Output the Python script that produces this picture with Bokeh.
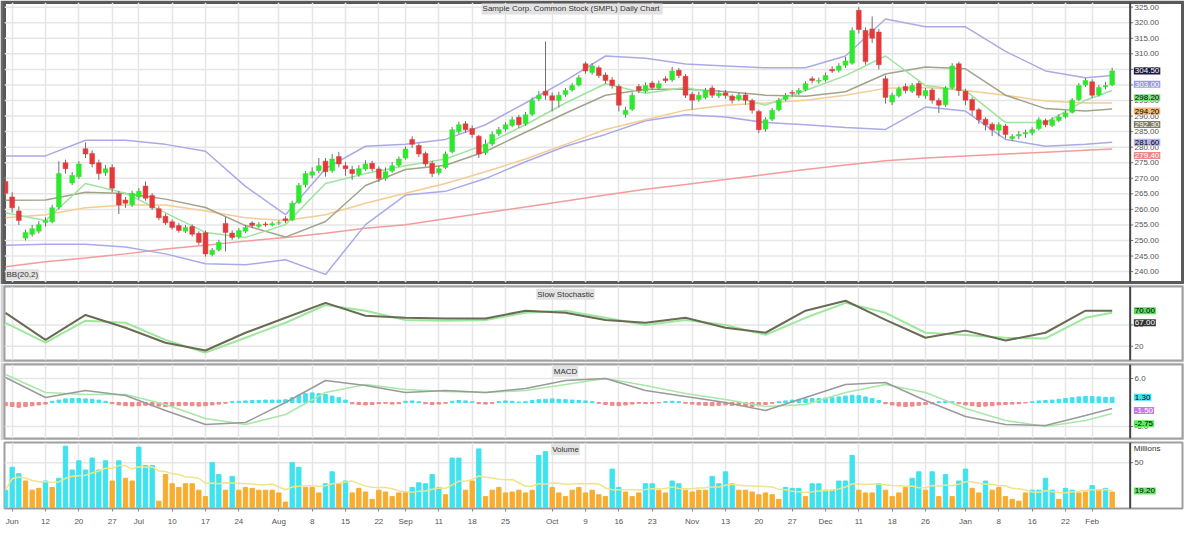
import pandas as pd
from bokeh.plotting import figure
from bokeh.layouts import column
from bokeh.models import ColumnDataSource, Range1d, FixedTicker, Label, Span
from bokeh.core.properties import value
from bokeh.embed import file_html
from bokeh.resources import INLINE

FONT = "Liberation Sans"
TITLE = "Sample Corp. Common Stock (SMPL)  Daily Chart"

opens = [269.0,264.0,259.5,250.8,252.0,253.0,255.8,256.0,260.8,275.0,
         268.5,270.5,279.5,278.0,275.0,271.8,273.5,265.0,263.0,261.5,
         264.0,267.5,264.5,260.2,257.8,256.0,254.8,253.0,254.5,252.3,
         252.5,245.5,247.0,255.5,252.4,251.2,253.0,255.6,254.6,255.3,
         255.0,255.6,257.0,256.6,262.2,267.9,271.0,272.5,275.5,272.4,
         277.0,274.0,272.8,271.2,273.0,274.8,273.0,270.0,272.3,274.2,
         276.5,282.5,280.5,278.0,274.8,271.8,273.5,278.5,285.0,287.5,
         286.0,283.5,278.2,281.0,284.3,285.8,287.0,289.6,287.5,290.6,
         295.5,298.0,296.5,295.0,296.9,298.4,300.0,306.8,304.0,305.5,
         303.2,301.6,299.5,290.5,292.2,299.5,298.0,300.6,299.0,302.0,
         301.6,304.7,302.8,297.0,295.3,296.0,299.0,296.5,297.5,296.4,
         295.4,296.8,295.0,291.5,285.8,289.0,292.0,295.3,297.6,297.5,
         298.5,302.0,301.2,301.6,305.0,304.7,306.3,307.0,324.0,317.5,
         318.0,317.0,302.0,294.5,296.5,299.5,298.0,300.5,296.5,298.4,
         295.0,293.6,299.2,306.8,298.0,295.3,292.0,289.0,287.4,285.4,
         286.8,282.8,283.6,284.3,284.6,286.0,288.6,287.0,288.6,289.8,
         291.2,295.3,300.0,301.0,296.8,299.4,300.0]
highs = [270.5,265.5,261.0,253.5,255.0,256.2,257.5,261.5,275.5,276.0,
         272.0,275.5,281.5,279.0,276.0,274.3,274.5,266.0,264.0,266.0,
         266.8,269.0,265.2,261.0,258.6,256.8,255.6,255.0,255.2,253.0,
         253.2,247.6,250.2,257.5,253.3,254.0,255.0,256.2,255.9,256.0,
         256.1,256.5,257.8,262.8,268.5,272.3,273.5,276.5,276.5,277.8,
         278.5,275.2,274.0,274.2,275.8,275.6,273.8,273.5,275.2,277.0,
         280.2,283.5,281.2,278.6,275.6,274.0,278.6,286.5,288.2,288.4,
         287.0,284.0,282.5,285.0,286.5,288.0,289.8,290.4,291.3,296.0,
         298.0,314.0,297.6,297.8,299.0,300.6,303.2,307.5,307.0,306.2,
         304.0,302.5,300.2,293.0,297.6,300.3,300.8,301.3,301.4,302.8,
         305.8,305.5,303.5,297.8,297.8,299.0,299.8,298.3,298.4,297.0,
         297.5,297.6,295.6,292.0,289.6,292.6,295.8,297.4,298.4,299.0,
         301.2,302.8,302.4,304.0,306.0,307.0,309.0,318.5,325.0,318.5,
         322.0,318.0,303.0,297.5,299.5,300.5,300.6,301.2,299.0,299.0,
         295.8,299.6,307.0,307.5,298.8,296.0,292.6,289.6,288.0,288.0,
         287.4,284.2,285.2,285.6,286.4,289.6,289.2,289.6,290.5,291.8,
         295.8,300.6,302.2,301.8,300.0,301.0,305.5]
lows = [263.5,259.0,255.0,250.0,251.2,252.2,254.5,255.5,260.0,271.5,
        267.8,269.8,276.5,273.5,269.5,270.8,265.5,258.5,260.5,260.8,
        263.2,262.8,259.8,256.5,255.0,253.5,252.5,252.4,251.3,248.6,
        244.8,244.9,246.5,246.5,250.2,250.6,252.4,254.0,254.0,254.4,
        254.5,255.0,255.6,256.2,261.8,267.0,270.0,271.6,270.5,271.8,
        273.5,270.8,269.5,270.5,272.4,272.2,268.8,269.2,271.8,273.6,
        276.0,279.8,276.8,273.8,270.4,271.0,273.0,278.0,284.3,284.6,
        283.0,276.5,277.5,280.4,283.6,285.0,286.4,286.2,286.9,290.0,
        294.8,295.2,291.5,292.8,296.2,297.8,299.5,303.6,303.3,302.2,
        300.4,298.8,291.5,289.5,291.6,297.4,297.4,298.4,298.5,300.6,
        301.0,302.2,295.8,292.0,294.6,295.4,295.8,295.8,295.6,294.0,
        294.8,293.6,290.8,284.5,285.0,288.4,291.5,294.8,296.2,296.8,
        298.0,300.5,300.4,301.0,303.8,304.0,305.5,306.5,316.5,306.5,
        313.5,305.0,294.0,293.5,296.0,297.3,297.4,295.8,295.6,294.0,
        291.0,293.0,298.6,296.5,293.5,290.2,287.5,285.4,283.6,283.5,
        282.8,282.0,282.6,283.0,283.8,285.4,286.4,286.5,288.0,289.2,
        290.8,294.8,299.4,295.8,296.2,298.6,299.6]
closes = [265.2,260.5,256.4,252.6,253.8,255.1,256.4,260.5,271.5,273.1,
          270.9,274.6,277.8,274.6,271.5,273.1,266.8,261.4,262.0,265.2,
          265.8,263.6,260.5,257.3,255.7,254.2,253.2,254.2,252.0,249.4,
          245.7,246.9,249.4,252.6,251.0,253.2,254.2,254.8,255.1,255.1,
          255.4,255.7,256.4,262.0,267.7,271.5,272.1,274.0,272.1,276.2,
          274.6,273.1,271.5,273.1,274.6,273.1,269.9,272.1,274.0,276.2,
          279.4,280.9,277.8,274.6,271.5,273.1,277.8,285.6,287.2,285.6,
          284.1,277.8,280.9,284.1,285.6,287.2,288.8,287.2,290.4,295.1,
          296.7,296.7,295.1,296.7,298.2,299.8,302.3,304.5,306.1,303.0,
          301.4,299.8,293.5,291.9,296.7,298.2,299.8,299.2,300.4,301.4,
          304.5,303.0,296.7,295.1,296.7,298.2,296.7,297.3,296.7,295.1,
          296.7,295.1,291.9,285.6,288.8,291.9,295.1,296.7,297.3,298.2,
          300.4,301.4,301.4,303.0,304.5,306.1,307.7,317.5,317.8,307.5,
          315.0,306.5,296.0,296.7,298.8,298.2,299.8,296.7,298.2,295.1,
          293.5,299.0,306.1,298.2,295.1,291.9,288.8,287.2,285.6,287.2,
          284.1,283.4,284.1,284.7,285.6,288.8,287.2,288.8,289.7,291.0,
          295.1,299.8,301.4,296.7,299.2,299.8,304.5]
volumes = [20,45,38,30,20,22,30,23,33,68,42,52,42,55,42,52,30,52,33,30,
           67,47,47,8,37,27,23,27,27,20,13,50,37,20,35,20,23,22,20,20,
           20,17,7,50,45,23,23,17,27,40,27,30,17,22,18,10,20,18,13,17,
           18,23,28,27,37,23,15,55,55,20,30,65,13,20,23,17,18,20,17,20,
           58,62,23,17,13,20,23,17,
           20,15,13,43,23,18,13,17,27,27,20,17,30,27,20,18,20,20,35,27,
           40,27,20,20,18,15,17,15,10,23,22,22,13,27,27,20,20,30,30,58,
           20,17,17,27,20,13,17,23,33,40,20,40,13,37,13,30,43,22,17,30,
           20,23,13,10,8,17,20,20,33,20,10,22,20,17,18,25,20,22,18]

ind_idx = [0,6,12,18,24,30,36,42,48,54,60,66,72,78,84,90,96,102,108,114,
           120,126,132,138,144,150,156,162,166]
bb_upper = [277.2,277.2,282.2,282.2,280.9,278.7,267.4,258.3,273.1,280.3,280.9,282.5,287.2,294.2,301.4,
            309.3,308.6,306.7,306.1,305.5,305.5,309.3,321.2,318.7,318.7,310.8,304.5,302.3,303.0]
bb_mid = [262.9,263.0,265.5,265.1,263.3,260.6,254.8,251.1,256.1,267.7,272.8,274.2,278.6,284.8,290.9,
          296.7,298.6,298.6,297.9,296.7,296.4,297.8,303.5,305.8,305.2,296.7,292.4,291.6,292.3]
bb_lower = [248.5,248.8,248.8,247.9,245.7,242.5,242.2,243.8,239.1,255.1,264.6,265.8,269.9,275.3,280.3,
            284.1,288.5,290.4,289.7,287.9,287.2,286.3,285.7,292.9,291.6,282.5,280.3,280.9,281.6]
ema_fast = [258.9,256.4,268.3,265.2,258.9,252.6,251.0,255.1,268.3,271.5,274.0,276.2,280.9,287.2,294.2,
            300.4,297.3,299.2,296.7,293.5,298.2,303.0,309.3,299.8,298.2,287.9,287.9,295.1,298.2]
sma_50 = [257.3,258.3,260.5,261.4,261.4,259.5,257.3,256.4,258.3,262.0,265.2,268.3,272.1,276.2,280.9,
          285.7,288.8,291.9,293.5,294.2,295.1,296.7,298.9,299.2,298.2,296.7,294.8,294.2,294.2]
sma_200 = [241.6,243.2,244.4,245.7,247.3,248.5,249.8,251.0,252.3,253.9,255.1,257.0,258.9,260.8,262.7,
           264.6,266.5,268.0,269.6,271.2,272.8,274.3,275.6,276.5,277.2,277.8,278.4,279.0,279.4]
stoch_k = [67,29,64,46,25,14,39,60,81,63,60,59,59,70,67,57,53,60,46,39,70,84,57,32,42,28,39,70,70]
stoch_d = [53,25,56,53,29,11,32,53,78,70,57,56,57,67,70,60,50,57,50,36,60,81,67,39,36,32,31,60,67]
macd_line = [6.25,1.25,3.0,1.75,-2.0,-5.5,-5.0,0.0,5.5,4.25,2.5,3.0,2.5,3.5,5.5,6.0,3.0,1.5,0.0,-2.0,
             1.25,4.5,5.0,0.5,-3.5,-5.5,-5.75,-3.25,-1.5]
macd_signal = [7.0,2.5,2.0,2.0,-0.5,-4.0,-5.5,-3.0,2.5,4.5,3.25,2.75,2.5,3.0,4.5,6.0,4.25,2.25,0.75,-1.0,
               -0.5,2.5,4.5,2.5,-1.5,-4.5,-6.0,-4.5,-2.75]
macd_hist = [-0.8,-1.0,-1.2,-1.0,-0.8,-0.6,-0.4,
             0.3,0.6,0.9,1.0,1.0,0.9,0.8,0.6,0.3,
             -0.3,-0.6,-0.8,-0.9,-0.8,-0.7,-0.8,-0.9,-1.0,-0.9,-0.8,-0.7,-0.8,-0.9,-0.8,-0.6,-0.4,-0.2,
             0.2,0.3,0.4,0.5,0.5,0.6,0.6,0.6,0.7,1.2,1.8,2.2,2.4,2.2,2.0,1.6,1.2,0.6,
             -0.3,-0.5,-0.6,-0.5,-0.3,
             -0.2,-0.4,-0.3,
             0.3,0.4,0.2,
             -0.3,-0.5,-0.4,-0.2,
             0.3,0.5,0.4,0.2,
             -0.3,-0.4,-0.2,
             0.2,0.4,0.3,0.1,
             0.2,0.5,0.7,0.8,0.9,0.8,0.7,0.6,0.5,0.4,0.2,
             -0.2,-0.5,-0.7,-0.8,-0.6,-0.4,-0.2,
             -0.3,-0.2,-0.1,
             0.2,0.3,0.2,
             -0.2,-0.4,-0.6,-0.7,-0.8,-0.7,-0.6,-0.7,-0.8,-0.9,-1.0,-0.8,-0.5,-0.2,
             0.2,0.4,0.6,0.8,0.9,1.0,1.0,1.1,1.2,1.4,1.6,1.8,1.7,1.4,1.0,0.5,
             -0.3,-0.6,-0.9,-1.0,-0.9,-0.7,
             -0.5,-0.3,
             0.2,0.3,0.2,
             -0.3,-0.6,-0.8,-1.0,-0.9,-0.8,-0.6,-0.5,-0.4,-0.3,-0.1,
             0.2,0.4,0.5,0.6,0.8,1.0,1.2,1.4,1.5,1.5,1.4,1.3,1.3]

price_ticks = [240,245,250,255,260,265,270,275,280,285,290,295,300,305,310,315,320,325]
stoch_ticks = [20, 50]
macd_ticks = [-6, 6]
vol_ticks = [50]
date_ticks = [1,6,11,16,20,25,30,35,41,46,51,56,60,65,70,75,82,87,92,97,103,108,113,118,
              123,128,133,138,144,149,154,159,163]
date_labels = ["Jun","12","20","27","Jul","10","17","24","Aug","8","15","22","Sep","11","18","25",
               "Oct","9","16","23","Nov","13","20","27","Dec","11","18","26","Jan","8","16","22","Feb"]

N = len(closes)
xs = list(range(N))
vol_ma = pd.Series(volumes).rolling(10, min_periods=1).mean().round(2).tolist()
src = ColumnDataSource(dict(
    x=xs, o=opens, h=highs, l=lows, c=closes,
    top=[max(o, c) for o, c in zip(opens, closes)],
    bot=[min(o, c) for o, c in zip(opens, closes)],
    col=["#2ee82e" if c >= o else "#e23a3a" for o, c in zip(opens, closes)],
    vol=volumes, vma=vol_ma,
    vcol=["#3fe3ee" if v >= m else "#f7ad2f" for v, m in zip(volumes, vol_ma)],
    hist=macd_hist,
    hcol=["#40e0ef" if hv >= 0 else "#f08a8a" for hv in macd_hist],
))

W = 1184
X0 = -0.15          # left edge of the data area
AX = 168.7          # where the price scale sits (right edge of data area)
XR = Range1d(X0, 176.55)


def make_fig(h, yr, ticks, fmt, xaxis=False):
    f = figure(width=W, height=h, x_range=XR, y_range=yr, output_backend="svg",
               toolbar_location=None, y_axis_location=None,
               x_axis_location="below" if xaxis else None,
               min_border_left=4, min_border_right=2, min_border_top=2,
               min_border_bottom=2)
    f.xgrid.ticker = FixedTicker(ticks=date_ticks)
    f.xgrid.grid_line_color = "#e6e6e6"
    f.xgrid.grid_line_width = 1.5
    f.ygrid.visible = False
    f.segment(x0=[X0] * len(ticks), x1=[AX] * len(ticks), y0=ticks, y1=ticks,
              line_color="#e6e6e6", line_width=1.5)
    f.add_layout(Span(location=AX, dimension="height", line_color="#444444", line_width=2))
    f.segment(x0=[AX] * len(ticks), x1=[AX + 0.45] * len(ticks), y0=ticks, y1=ticks,
              line_color="#777777", line_width=1)
    f.text(x=[AX + 0.65] * len(ticks), y=ticks, text=[fmt.format(t) for t in ticks],
           text_font=value(FONT), text_font_size="8px", text_color="#555555",
           text_baseline="middle", text_align="left")
    f.outline_line_color = "#a0a0a0"
    f.outline_line_width = 2
    return f


def title_label(f, x, y, text):
    f.add_layout(Label(x=x, y=y, text=text, text_align="center", text_baseline="top",
                       text_font=FONT, text_font_size="8px", text_color="#333333",
                       background_fill_color="#e2e2e2", padding=1))


def value_boxes(f, items, gap):
    items = sorted(items, key=lambda t: -t[0])
    prev = None
    for v, bg, fg in items:
        yv = v if prev is None else min(v, prev - gap)
        prev = yv
        f.add_layout(Label(x=AX + 0.55, y=yv, text=f"{v:.2f}", text_align="left",
                           text_baseline="middle", text_font=FONT, text_font_size="8px",
                           text_color=fg, background_fill_color=bg, padding=1))


# ---------------- main price panel ----------------
main = make_fig(284, Range1d(236.5, 326.5), price_ticks, "{:.2f}")
main.outline_line_color = "#5a5a5a"
main.outline_line_width = 3
main.border_fill_color = "#6a6a6a"
main.line(ind_idx, sma_200, line_color="#f29c9c", line_width=1.5)
main.line(ind_idx, bb_upper, line_color="#aaaae8", line_width=1.5)
main.line(ind_idx, bb_lower, line_color="#aaaae8", line_width=1.5)
main.line(ind_idx, sma_50, line_color="#f4cc94", line_width=1.5)
main.line(ind_idx, bb_mid, line_color="#a3a38a", line_width=1.5)
main.line(ind_idx, ema_fast, line_color="#9ee49e", line_width=1.5)
main.segment(x0="x", y0="h", x1="x", y1="l", source=src, line_color="#707070", line_width=1)
main.vbar(x="x", width=0.72, top="top", bottom="bot", source=src,
          fill_color="col", line_color="col", line_width=0.5)
title_label(main, 85, 326.2, TITLE)
main.add_layout(Label(x=0, y=237.2, text="BB(20,2)", text_align="left", text_baseline="bottom",
                      text_font=FONT, text_font_size="8px", text_color="#333333",
                      background_fill_color="#e2e2e2", padding=1))
value_boxes(main, [
    (closes[-1], "#1c1c3c", "white"),
    (bb_upper[-1], "#9a9ae2", "white"),
    (ema_fast[-1], "#7fdc7f", "black"),
    (sma_50[-1], "#f2b878", "black"),
    (bb_mid[-1], "#7f7f68", "white"),
    (bb_lower[-1], "#b5b5ee", "black"),
    (sma_200[-1], "#ee8888", "white"),
], 4.3)

# ---------------- stochastic ----------------
stoch = make_fig(78, Range1d(0, 104), stoch_ticks, "{:.0f}")
stoch.border_fill_color = "#d4d4d4"
stoch.line(ind_idx, stoch_d, line_color="#9de89d", line_width=2)
stoch.line(ind_idx, stoch_k, line_color="#6b6b55", line_width=2)
title_label(stoch, 84, 101, "Slow Stochastic")
value_boxes(stoch, [(stoch_k[-1], "#55dd55", "black"), (stoch_d[-1], "#333333", "white")], 17)

# ---------------- MACD ----------------
macd = make_fig(78, Range1d(-9, 9.5), macd_ticks, "{:.1f}")
macd.border_fill_color = "#d4d4d4"
macd.vbar(x="x", width=0.55, top="hist", bottom=0, source=src, fill_color="hcol", line_color="hcol")
macd.line(ind_idx, macd_signal, line_color="#a8e8a8", line_width=1.5)
macd.line(ind_idx, macd_line, line_color="#9a9a9a", line_width=1.5)
title_label(macd, 84, 9.2, "MACD")
value_boxes(macd, [(macd_hist[-1], "#44e0ef", "black"), (macd_line[-1], "#cc77ee", "white"),
                   (macd_signal[-1], "#5ee85e", "black")], 3.3)

# ---------------- volume ----------------
vol = make_fig(88, Range1d(0, 72), vol_ticks, "{:.0f}", xaxis=True)
vol.vbar(x="x", width=0.65, top="vol", bottom=0, source=src, fill_color="vcol", line_color="vcol")
vol.line(x="x", y="vma", source=src, line_color="#eee48a", line_width=1.5)
title_label(vol, 84, 70, "Volume")
value_boxes(vol, [(vol_ma[-1], "#66e866", "black")], 8)
vol.add_layout(Label(x=AX + 0.55, y=70, text="Millions", text_align="left",
                     text_baseline="top", text_font=FONT, text_font_size="8px",
                     text_color="#333333"))
xa = vol.xaxis[0]
xa.ticker = FixedTicker(ticks=date_ticks)
xa.major_label_overrides = {t: lbl for t, lbl in zip(date_ticks, date_labels)}
xa.major_label_text_font_size = "8px"
xa.major_label_text_font = FONT
xa.major_label_text_color = "#555555"
xa.axis_line_color = "#999999"
xa.major_tick_line_color = "#888888"
xa.major_tick_out = 3
xa.major_tick_in = 0
xa.minor_tick_line_color = None

layout = column(main, stoch, macd, vol, spacing=0)
open("out.html", "w").write(file_html(layout, INLINE))
